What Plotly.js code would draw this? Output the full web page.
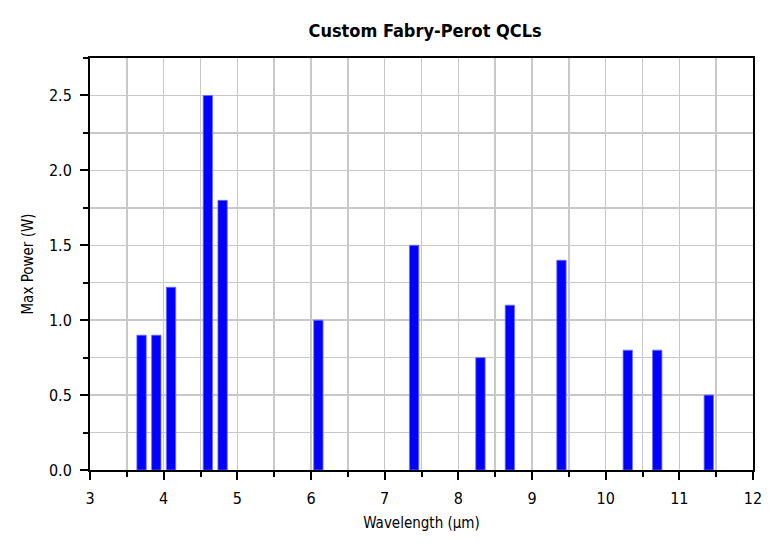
<!DOCTYPE html>
<html>
<head>
<meta charset="utf-8">
<script src="https://cdn.plot.ly/plotly-3.0.1.min.js"></script>
<style>html,body{margin:0;padding:0;background:#fff;}#chart{width:780px;height:550px;}</style>
</head>
<body>
<div id="chart"></div>
<script>
const wavelengths = [3.7, 3.9, 4.1, 4.6, 4.8, 6.1, 7.4, 8.3, 8.7, 9.4, 10.3, 10.7, 11.4];
const maxPower = [0.9, 0.9, 1.22, 2.5, 1.8, 1.0, 1.5, 0.75, 1.1, 1.4, 0.8, 0.8, 0.5];
const chartTitle = 'Custom Fabry-Perot QCLs';
const xTitle = 'Wavelength (µm)';
const yTitle = 'Max Power (W)';

const FONT = '"Liberation Sans Narrow", "DejaVu Sans Condensed", "Arial Narrow", "Liberation Sans", sans-serif';

const trace = {
  type: 'bar',
  x: wavelengths,
  y: maxPower,
  width: 0.127,
  marker: {color: '#0000ff', line: {color: '#6f6fff', width: 0.8}},
  hoverinfo: 'x+y'
};

const layout = {
  width: 780, height: 550,
  margin: {l: 90, r: 27, t: 58, b: 80},
  paper_bgcolor: '#ffffff', plot_bgcolor: '#ffffff',
  font: {family: FONT, color: '#000000', size: 14},
  title: {text: chartTitle, font: {family: FONT, size: 18, weight: 'bold', color: '#000'}, x: 0.545, xanchor: 'center', y: 0.945, yanchor: 'middle'},
  showlegend: false,
  bargap: 0,
  xaxis: {
    range: [3, 12], dtick: 1, tick0: 3,
    showline: true, linecolor: '#000', linewidth: 2, mirror: true,
    ticks: 'outside', ticklen: 8, tickwidth: 2, tickcolor: '#000',
    showgrid: true, gridcolor: '#c8c8c8', gridwidth: 1.5,
    zeroline: false, ticklabelstandoff: 5,
    tickfont: {family: FONT, size: 16, color: '#000'},
    minor: {dtick: 0.5, tick0: 3, ticks: 'outside', ticklen: 5, tickwidth: 2, tickcolor: '#000', showgrid: true, gridcolor: '#c8c8c8', gridwidth: 1.5},
    title: {text: xTitle, font: {family: FONT, size: 15, color: '#000'}, standoff: 10}
  },
  yaxis: {
    range: [0, 2.75], dtick: 0.5, tick0: 0, tickformat: '.1f',
    showline: true, linecolor: '#000', linewidth: 2, mirror: true,
    ticks: 'outside', ticklen: 8, tickwidth: 2, tickcolor: '#000',
    showgrid: true, gridcolor: '#c8c8c8', gridwidth: 1.5,
    zeroline: false, ticklabelstandoff: 5,
    tickfont: {family: FONT, size: 16, color: '#000'},
    minor: {dtick: 0.25, tick0: 0, ticks: 'outside', ticklen: 5, tickwidth: 2, tickcolor: '#000', showgrid: true, gridcolor: '#c8c8c8', gridwidth: 1.5},
    title: {text: yTitle, font: {family: FONT, size: 15, color: '#000'}, standoff: 12}
  }
};

Plotly.newPlot('chart', [trace], layout, {displayModeBar: false, staticPlot: true});
</script>
</body>
</html>
